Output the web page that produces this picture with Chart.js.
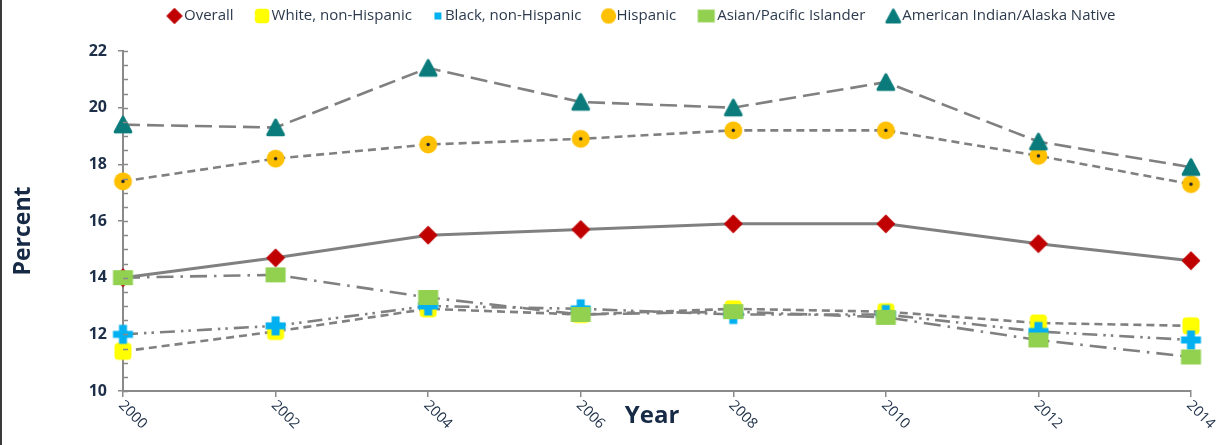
<!DOCTYPE html>
<html>
<head>
<meta charset="utf-8">
<title>Percent by race/ethnicity, 2000–2014</title>
<script src="https://cdn.jsdelivr.net/npm/chart.js@4.4.1/dist/chart.umd.min.js"></script>
<style>
  html, body { margin: 0; padding: 0; background: #ffffff; }
  #wrap { position: relative; width: 1221px; height: 445px; }
  canvas { display: block; }
</style>
</head>
<body>
<div id="wrap"><canvas id="chart" width="1221" height="445"></canvas></div>
<script>
// ---- data ----
const years = ['2000', '2002', '2004', '2006', '2008', '2010', '2012', '2014'];
const overall  = [14.0, 14.7, 15.5, 15.7, 15.9, 15.9, 15.2, 14.6];
const white    = [11.4, 12.1, 12.9, 12.7, 12.9, 12.8, 12.4, 12.3];
const black    = [12.0, 12.3, 13.0, 12.9, 12.7, 12.7, 12.1, 11.8];
const hispanic = [17.4, 18.2, 18.7, 18.9, 19.2, 19.2, 18.3, 17.3];
const asianPI  = [14.0, 14.1, 13.3, 12.7, 12.8, 12.6, 11.8, 11.2];
const amIndian = [19.4, 19.3, 21.4, 20.2, 20.0, 20.9, 18.8, 17.9];
const seriesNames = ['Overall', 'White, non-Hispanic', 'Black, non-Hispanic', 'Hispanic',
                     'Asian/Pacific Islander', 'American Indian/Alaska Native'];
const yTicks = [10, 12, 14, 16, 18, 20, 22];

// ---- styling ----
const FONT = "'Open Sans', 'Noto Sans', sans-serif";
const TEXT = '#1d2f48';
const LINE = '#808080';
const AXIS = '#8a8a8a';

// marker images, drawn once and reused as point styles
function markerCanvas(kind, big) {
  const c = document.createElement('canvas');
  const s = big ? 1 : 0.85;
  const dims = {
    diamond: [18, 18], square: [18, 18], cross: [21, 20], circle: [19, 19],
    rect: [21, 15], triangle: [20, 19], smallsq: [8, 8]
  }[kind];
  c.width = Math.ceil(dims[0] * s) + 2;
  c.height = Math.ceil(dims[1] * s) + 2;
  const g = c.getContext('2d');
  const cx = c.width / 2, cy = c.height / 2;
  g.lineJoin = 'round';
  if (kind === 'diamond') {
    const r = 8.5 * s;
    g.fillStyle = '#c00000';
    g.strokeStyle = '#c00000';
    g.lineWidth = 1.5;
    g.beginPath();
    g.moveTo(cx, cy - r); g.lineTo(cx + r, cy); g.lineTo(cx, cy + r); g.lineTo(cx - r, cy);
    g.closePath(); g.fill(); g.stroke();
  } else if (kind === 'square') {
    const w = 17 * s, rr = 4 * s;
    g.fillStyle = '#ffff00';
    g.beginPath();
    g.roundRect(cx - w / 2, cy - w / 2, w, w, rr);
    g.fill();
  } else if (kind === 'cross') {
    const w = 20 * s, h = 19 * s, t = 7 * s;
    g.fillStyle = '#00b0f0';
    g.fillRect(cx - w / 2, cy - t / 2, w, t);
    g.fillRect(cx - t / 2 - 0.5, cy - h / 2, t + 1, h);
  } else if (kind === 'circle') {
    g.fillStyle = '#ffc000';
    g.beginPath(); g.arc(cx, cy, 9 * s, 0, Math.PI * 2); g.fill();
    if (big) {
      g.fillStyle = '#1a1f2e';
      g.beginPath(); g.arc(cx, cy, 1.7, 0, Math.PI * 2); g.fill();
    }
  } else if (kind === 'rect') {
    const w = 20 * s, h = 15 * s;
    g.fillStyle = '#92d050';
    g.fillRect(cx - w / 2, cy - h / 2, w, h);
  } else if (kind === 'triangle') {
    const w = 15.5 * s, h = 14.5 * s;
    g.fillStyle = '#0b7b7b';
    g.strokeStyle = '#0b7b7b';
    g.lineWidth = 3.2 * s;
    g.beginPath();
    g.moveTo(cx, cy - h / 2); g.lineTo(cx + w / 2, cy + h / 2); g.lineTo(cx - w / 2, cy + h / 2);
    g.closePath(); g.fill(); g.stroke();
  } else if (kind === 'smallsq') {
    g.fillStyle = '#00b0f0';
    g.fillRect(cx - 3.5, cy - 3.5, 7, 7);
  }
  return c;
}

const pointKinds  = ['diamond', 'square', 'cross', 'circle', 'rect', 'triangle'];
const legendKinds = ['diamond', 'square', 'smallsq', 'circle', 'rect', 'triangle'];
const seriesData  = [overall, white, black, hispanic, asianPI, amIndian];
const dashes = [
  [],                       // solid
  [8, 5],                   // dashed
  [15, 6, 2.5, 5, 2.5, 6],  // dash-dot-dot
  [8, 5],                   // dashed
  [17, 7, 2.5, 7],          // dash-dot
  [17, 7]                   // long dash
];

const datasets = seriesData.map((d, i) => ({
  label: seriesNames[i],
  data: d,
  borderColor: LINE,
  borderWidth: i === 0 ? 3 : 2.6,
  borderDash: dashes[i],
  pointStyle: markerCanvas(pointKinds[i], true),
  pointRadius: 9,
  pointHoverRadius: 9,
  fill: false,
  tension: 0,
  clip: false,
  order: seriesData.length - i   // later series sit on top
}));

// minor y ticks, x labels, axis titles and the legend
const decorations = {
  id: 'decorations',
  afterDraw(chart) {
    const ctx = chart.ctx;
    const xs = chart.scales.x, ys = chart.scales.y;
    const area = chart.chartArea;
    ctx.save();

    // frame line at the far left
    ctx.fillStyle = '#3a3a3a';
    ctx.fillRect(0, 0, 2, chart.height);

    // inner halves of major ticks and minor ticks on the y axis
    ctx.strokeStyle = AXIS;
    ctx.lineWidth = 1.5;
    const x0 = area.left;
    for (let v = ys.min; v <= ys.max + 1e-6; v += 0.5) {
      const y = Math.round(ys.getPixelForValue(v)) + 0.5;
      ctx.beginPath();
      ctx.moveTo(x0, y);
      ctx.lineTo(x0 + 5, y);
      ctx.stroke();
    }

    // rotated year labels
    ctx.fillStyle = TEXT;
    ctx.font = '14.5px ' + FONT;
    ctx.textAlign = 'left';
    ctx.textBaseline = 'middle';
    years.forEach((yr, i) => {
      const px = xs.getPixelForValue(i);
      ctx.save();
      ctx.translate(px - 2, area.bottom + 12);
      ctx.rotate(Math.PI / 4);
      ctx.fillText(yr, 0, 0);
      ctx.restore();
    });

    // axis titles
    ctx.font = 'bold 24px ' + FONT;
    ctx.textAlign = 'center';
    ctx.textBaseline = 'alphabetic';
    ctx.fillStyle = '#162a45';
    ctx.fillText('Year', 652, area.bottom + 32);

    ctx.save();
    ctx.translate(30, (area.top + area.bottom) / 2 + 10);
    ctx.rotate(-Math.PI / 2);
    ctx.font = 'bold 23px ' + FONT;
    ctx.fillText('Percent', 0, 0);
    ctx.restore();

    // legend row
    ctx.font = '15px ' + FONT;
    ctx.textAlign = 'left';
    ctx.textBaseline = 'middle';
    ctx.fillStyle = '#2c3a4d';
    const slots = [17, 17, 12, 14, 20, 16];
    let lx = 166;
    const ly = 16;
    seriesNames.forEach((name, i) => {
      const m = legendMarkers[i];
      ctx.drawImage(m, lx + slots[i] / 2 - m.width / 2, ly - m.height / 2);
      lx += slots[i] + 1;
      ctx.fillText(name, lx, ly);
      lx += ctx.measureText(name).width + 20;
    });

    ctx.restore();
  }
};
const legendMarkers = legendKinds.map(k => markerCanvas(k, false));

new Chart(document.getElementById('chart'), {
  type: 'line',
  data: { labels: years, datasets },
  options: {
    responsive: false,
    devicePixelRatio: 1,
    animation: false,
    layout: { padding: { top: 51, right: 30, bottom: 0, left: 0 } },
    plugins: { legend: { display: false }, tooltip: { enabled: false } },
    scales: {
      x: {
        type: 'category',
        offset: false,
        afterFit: s => { s.height = 54; },
        ticks: { display: false },
        grid: { display: true, drawOnChartArea: false, drawTicks: true, tickLength: 6, color: AXIS, lineWidth: 1.5 },
        border: { display: true, color: AXIS, width: 2 }
      },
      y: {
        min: 10,
        max: 22,
        afterFit: s => { s.width = 123; },
        afterBuildTicks: s => { s.ticks = yTicks.map(v => ({ value: v })); },
        ticks: { color: TEXT, padding: 11, font: { family: FONT, size: 16, weight: 'bold' } },
        grid: { display: true, drawOnChartArea: false, drawTicks: true, tickLength: 5, color: AXIS, lineWidth: 1.5 },
        border: { display: true, color: AXIS, width: 2 }
      }
    }
  },
  plugins: [decorations]
});
</script>
</body>
</html>
